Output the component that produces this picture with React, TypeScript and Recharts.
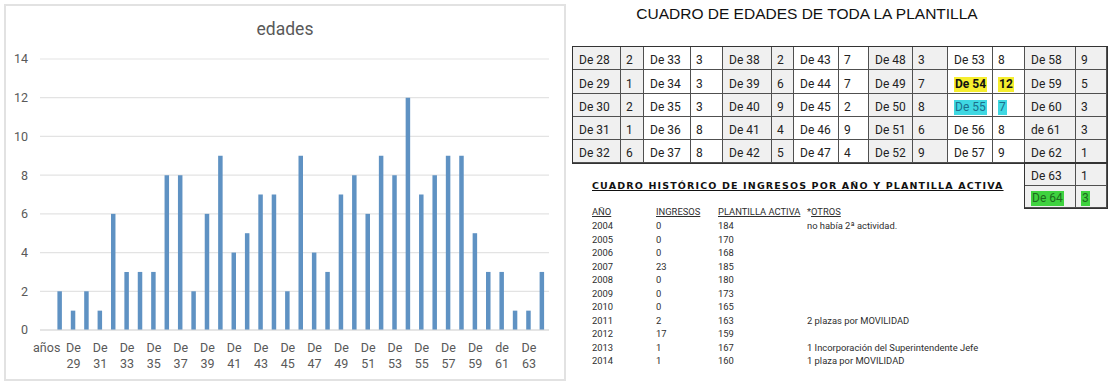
import React from 'react';
import { BarChart, Bar, XAxis, YAxis, CartesianGrid } from 'recharts';

// ---------- data ----------
const ageLabels = [
  'años', 'De 28', 'De 29', 'De 30', 'De 31', 'De 32', 'De 33', 'De 34', 'De 35', 'De 36', 'De 37',
  'De 38', 'De 39', 'De 40', 'De 41', 'De 42', 'De 43', 'De 44', 'De 45', 'De 46', 'De 47',
  'De 48', 'De 49', 'De 50', 'De 51', 'De 52', 'De 53', 'De 54', 'De 55', 'De 56', 'De 57',
  'De 58', 'De 59', 'De 60', 'de 61', 'De 62', 'De 63', 'De 64',
];
const ageCounts: (number | null)[] = [
  null, 2, 1, 2, 1, 6, 3, 3, 3, 8, 8,
  2, 6, 9, 4, 5, 7, 7, 2, 9, 4,
  3, 7, 8, 6, 9, 8, 12, 7, 8, 9,
  9, 5, 3, 3, 1, 1, 3,
];
const yTicks = [0, 2, 4, 6, 8, 10, 12, 14];

const chartTitle = 'edades';
const tableTitle = 'CUADRO DE EDADES DE TODA LA PLANTILLA';
const historyTitle = 'CUADRO HISTÓRICO DE INGRESOS POR AÑO Y PLANTILLA ACTIVA';

const historyHeaders = ['AÑO', 'INGRESOS', 'PLANTILLA ACTIVA', 'OTROS'];
const historyYears = ['2004', '2005', '2006', '2007', '2008', '2009', '2010', '2011', '2012', '2013', '2014'];
const historyIngresos = ['0', '0', '0', '23', '0', '0', '0', '2', '17', '1', '1'];
const historyPlantilla = ['184', '170', '168', '185', '180', '173', '165', '163', '159', '167', '160'];
const historyOtros = [
  'no había 2ª actividad.', '', '', '', '', '', '',
  '2 plazas por MOVILIDAD', '', '1 Incorporación del Superintendente Jefe', '1 plaza por MOVILIDAD',
];

// highlight styles for some table cells
const highlights: Record<string, { bg: string; color: string; bold?: boolean }> = {
  'De 54': { bg: '#f6ee2e', color: '#111', bold: true },
  'De 55': { bg: '#3fd8e2', color: '#1b6f8c' },
  'De 64': { bg: '#3fd23f', color: '#1d6a1d' },
};

// ---------- layout (styles) ----------
const colX = [572, 620, 643, 690, 722, 771, 793, 838, 868, 912, 947, 992, 1024, 1075, 1106];
const rowY = [46, 69, 92.5, 115.5, 139, 162, 184.5, 207];
const pairShade = ['#f0f0f0', '#ffffff', '#f0f0f0', '#ffffff', '#f0f0f0', '#ffffff', '#f0f0f0'];

const chartData = ageLabels.map((label, i) => ({ label, count: ageCounts[i] }));

const XTick = (props: any) => {
  const { x, y, payload } = props;
  const parts = String(payload.value).split(' ');
  return (
    <text x={x} y={y} textAnchor="middle" fill="#595959" fontSize={12.5} fontFamily="Roboto">
      {parts.map((p, i) => (
        <tspan key={i} x={x} dy={i === 0 ? 13.5 : 16}>{p}</tspan>
      ))}
    </text>
  );
};

const Cell = ({ left, top, width, height, bg, text, isNumber }: any) => {
  const hl = highlights[text.label];
  return (
    <div
      style={{
        position: 'absolute', left, top, width: width + 1, height: height + 1,
        boxSizing: 'border-box', border: '1px solid #505050', background: bg,
        display: 'flex', alignItems: 'flex-end', paddingLeft: isNumber ? 5 : 6, paddingBottom: 1,
        fontFamily: 'Roboto', fontSize: 12, lineHeight: '15px', color: '#222',
      }}
    >
      {hl ? (
        <span style={{ background: hl.bg, color: hl.color, fontWeight: hl.bold ? 700 : 400, padding: '0 1px' }}>
          {isNumber ? text.value : text.label}
        </span>
      ) : (
        <span>{isNumber ? text.value : text.label}</span>
      )}
    </div>
  );
};

export default function App() {
  const tableItems = ageLabels.slice(1).map((label, i) => ({ label, value: ageCounts[i + 1] }));
  const cells: any[] = [];
  tableItems.forEach((item, idx) => {
    let pair = Math.floor(idx / 5);
    let row = idx % 5;
    if (pair > 6) { pair = 6; row = 5 + (idx - 35); }
    const c0 = pair * 2;
    const top = rowY[row];
    const height = rowY[row + 1] - rowY[row];
    const bg = row >= 5 ? pairShade[6] : pairShade[pair];
    cells.push(
      <Cell key={`l${idx}`} left={colX[c0]} top={top} width={colX[c0 + 1] - colX[c0]} height={height} bg={bg} text={item} />,
      <Cell key={`v${idx}`} left={colX[c0 + 1]} top={top} width={colX[c0 + 2] - colX[c0 + 1]} height={height} bg={bg} text={item} isNumber />,
    );
  });

  const histCols = [592, 656, 718, 807];
  const histTextStyle: React.CSSProperties = {
    position: 'absolute', fontFamily: 'Roboto', fontSize: 9.4, lineHeight: '12px', color: '#2e2e2e', whiteSpace: 'nowrap',
  };

  return (
    <div style={{ position: 'absolute', left: 0, top: 0, width: 1110, height: 384, background: '#fff', overflow: 'hidden' }}>
      {/* chart frame */}
      <div style={{ position: 'absolute', left: 4, top: 4, width: 562, height: 377, border: '2px solid #e2e2e2', boxSizing: 'border-box' }} />
      <div style={{ position: 'absolute', left: 4, width: 562, top: 17, textAlign: 'center', fontFamily: 'Roboto', fontSize: 17.5, lineHeight: '24px', color: '#595959' }}>
        {chartTitle}
      </div>
      <div style={{ position: 'absolute', left: 0, top: 0 }}>
        <BarChart width={570} height={384} data={chartData} margin={{ top: 59, right: 21, bottom: 14, left: 0 }}>
          <CartesianGrid vertical={false} stroke="#e3e3e3" strokeWidth={1.2} />
          <XAxis
            dataKey="label"
            interval={1}
            height={40}
            axisLine={{ stroke: '#d9d9d9' }}
            tickLine={false}
            tick={<XTick />}
          />
          <YAxis
            width={40}
            domain={[0, 14]}
            ticks={yTicks}
            axisLine={false}
            tickLine={false}
            tickMargin={6}
            tick={{ fill: '#595959', fontSize: 12.5, fontFamily: 'Roboto' }}
          />
          <Bar dataKey="count" fill="#5f92c3" barSize={4.5} isAnimationActive={false} />
        </BarChart>
      </div>

      {/* age table */}
      <div style={{ position: 'absolute', left: 587, top: 4, width: 440, textAlign: 'center', fontFamily: 'Liberation Sans', fontSize: 15.5, lineHeight: '20px', color: '#111' }}>
        {tableTitle}
      </div>
      {cells}
      <div style={{ position: 'absolute', left: colX[0] - 0.5, top: rowY[0] - 0.5, width: colX[14] - colX[0] + 2, height: rowY[5] - rowY[0] + 2, border: '1.5px solid #333', boxSizing: 'border-box', pointerEvents: 'none' }} />
      <div style={{ position: 'absolute', left: colX[12] - 0.5, top: rowY[5] - 0.5, width: colX[14] - colX[12] + 2, height: rowY[7] - rowY[5] + 2, border: '1.5px solid #333', boxSizing: 'border-box', pointerEvents: 'none' }} />

      {/* history */}
      <div style={{ position: 'absolute', left: 592, top: 179, fontFamily: 'DejaVu Sans', fontWeight: 700, fontSize: 9.5, letterSpacing: 1.15, lineHeight: '13px', color: '#111', textDecoration: 'underline', whiteSpace: 'nowrap' }}>
        {historyTitle}
      </div>
      {historyHeaders.map((h, i) => (
        <div key={h} style={{ ...histTextStyle, left: histCols[i], top: 205.5 }}>
          {i === 3 ? <span>*<span style={{ textDecoration: 'underline' }}>{h}</span></span> : <span style={{ textDecoration: 'underline' }}>{h}</span>}
        </div>
      ))}
      {historyYears.map((yr, r) => (
        <React.Fragment key={yr}>
          <div style={{ ...histTextStyle, left: histCols[0], top: 220 + r * 13.5 }}>{yr}</div>
          <div style={{ ...histTextStyle, left: histCols[1], top: 220 + r * 13.5 }}>{historyIngresos[r]}</div>
          <div style={{ ...histTextStyle, left: histCols[2], top: 220 + r * 13.5 }}>{historyPlantilla[r]}</div>
          <div style={{ ...histTextStyle, left: histCols[3], top: 220 + r * 13.5 }}>{historyOtros[r]}</div>
        </React.Fragment>
      ))}
    </div>
  );
}
